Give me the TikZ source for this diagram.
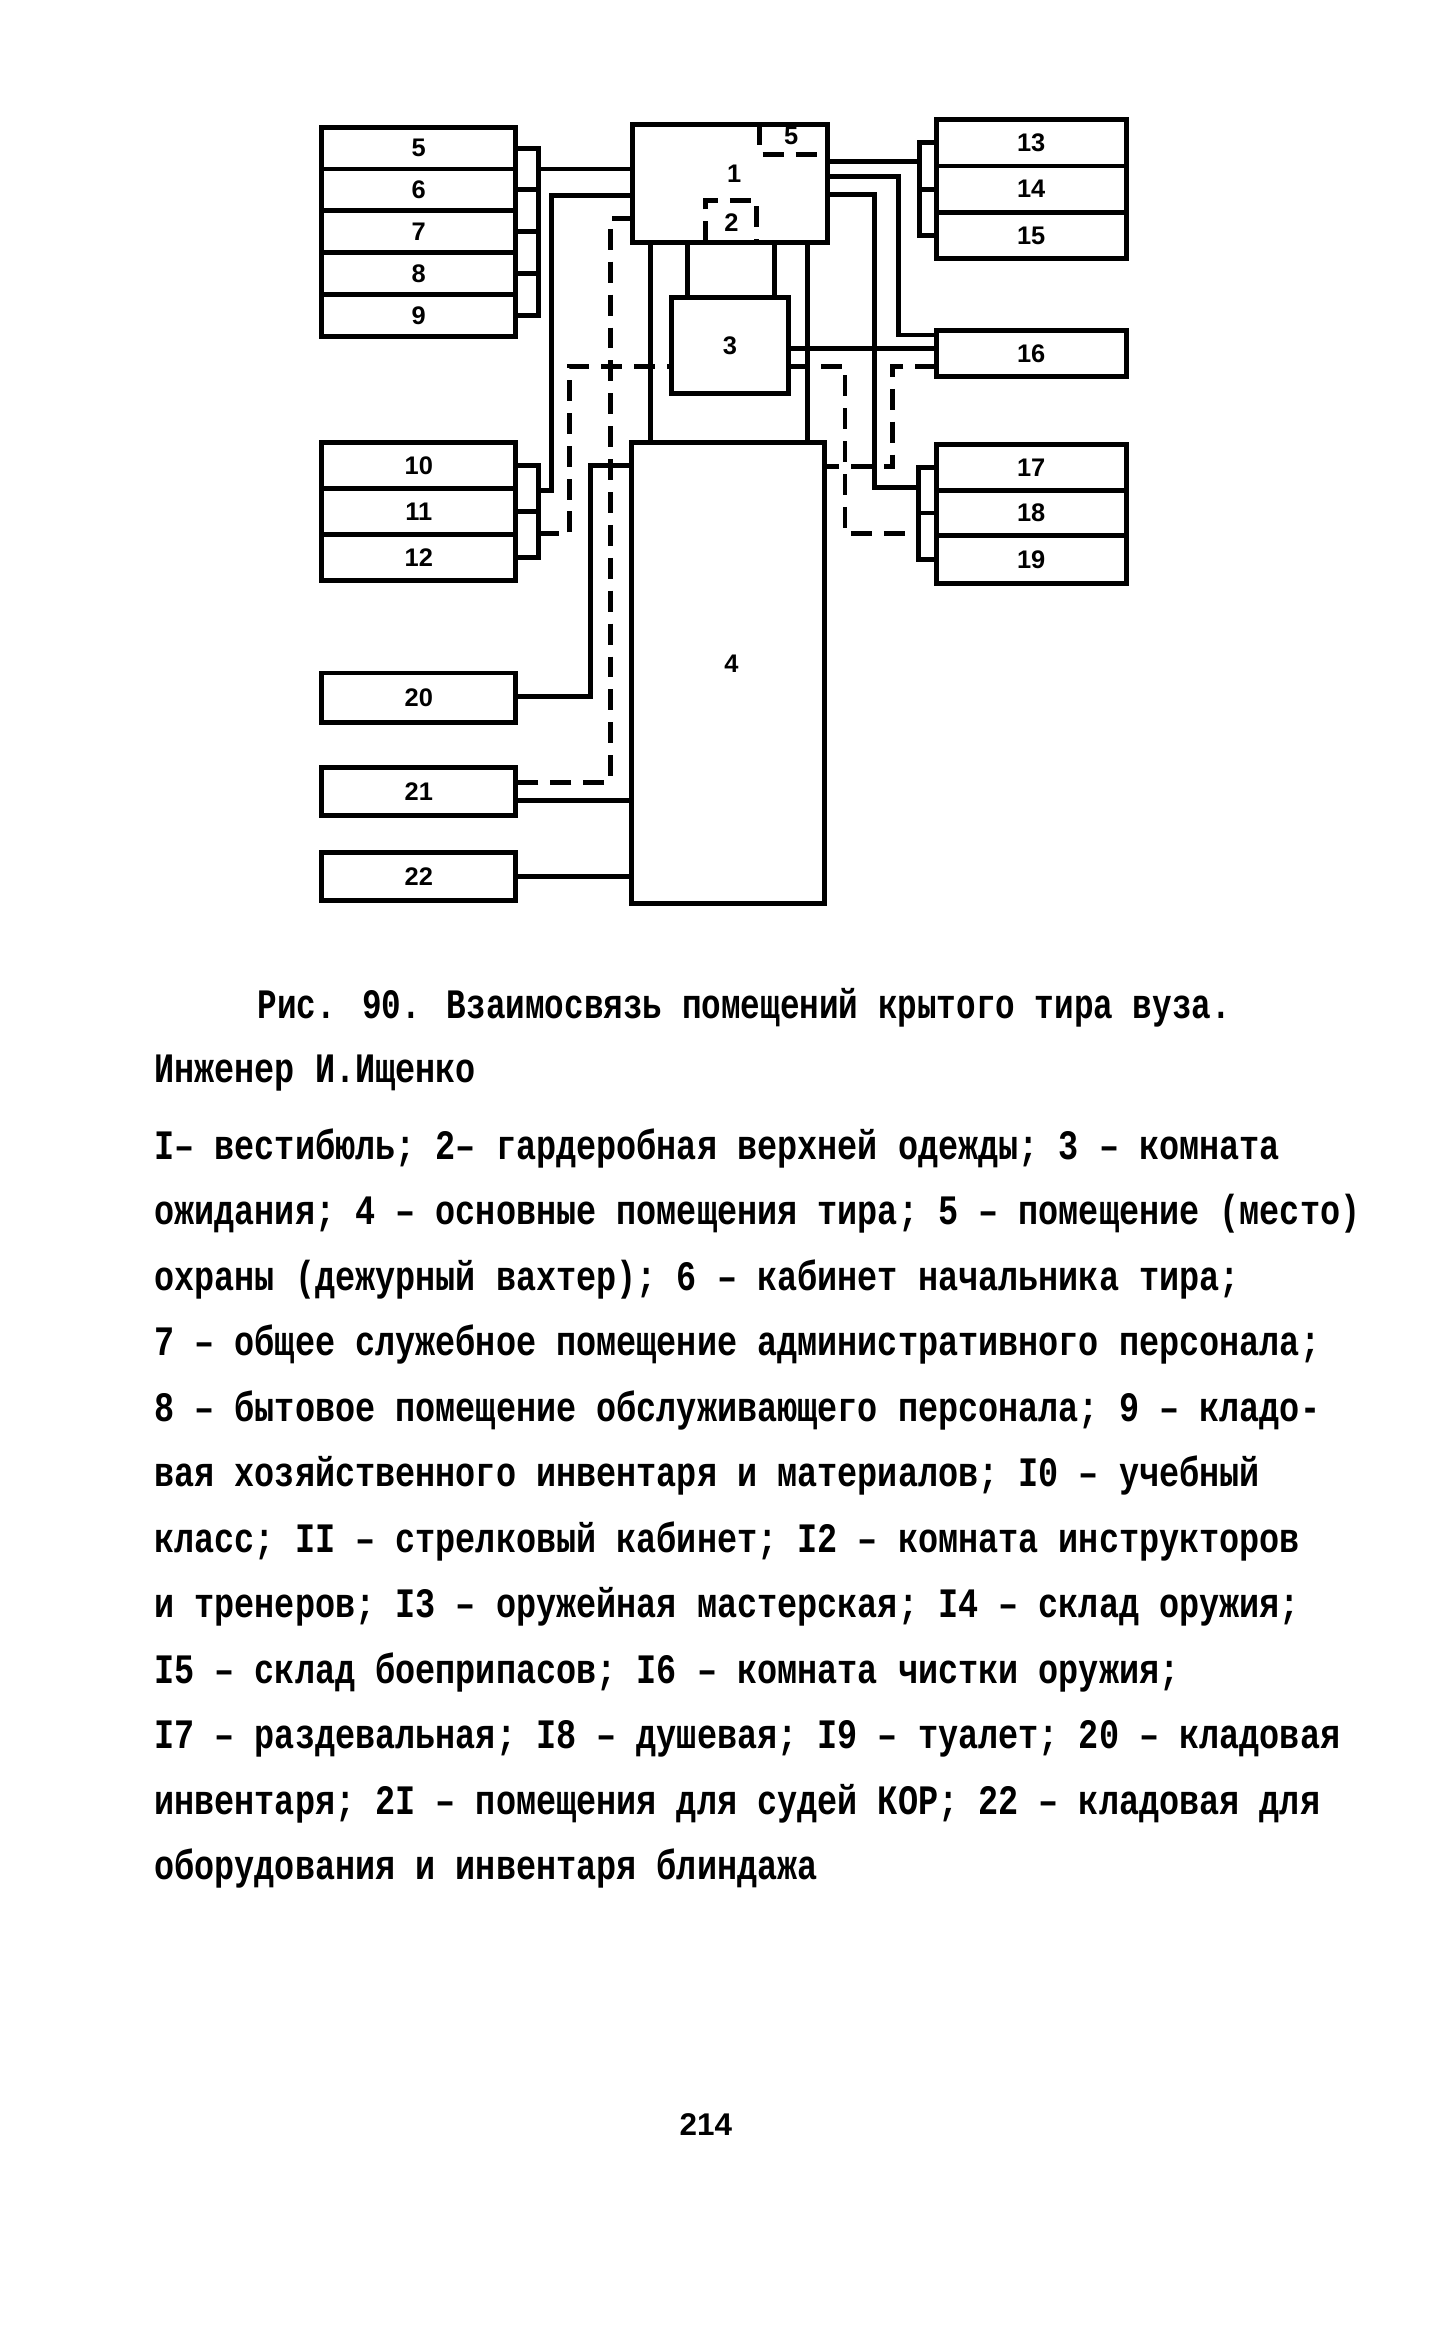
\documentclass[tikz,border=0pt]{standalone}
\usepackage{fontspec}
\newfontfamily\tw{Liberation Mono}[FakeStretch=0.80]
\newfontfamily\twc{Liberation Mono}[FakeStretch=0.78]
\newfontfamily\lab{Liberation Sans}
\begin{document}
\begin{tikzpicture}[x=1pt,y=-1pt,
  room/.style={draw, line width=3.3pt, inner sep=0pt, outer sep=0pt, anchor=north west,
    minimum width=130pt, font=\lab\bfseries\fontsize{17}{17}\selectfont},
  rroom/.style={room, minimum width=127pt},
  lbl/.style={inner sep=0pt, font=\lab\bfseries\fontsize{17}{17}\selectfont},
  wire/.style={line width=3.3pt},
  dwire/.style={line width=3.3pt, dash pattern=on 14pt off 8pt},
  txt/.style={anchor=base west, inner sep=0pt, font=\tw\bfseries\fontsize{28}{28}\selectfont},
  ctxt/.style={anchor=base west, inner sep=0pt, font=\twc\bfseries\fontsize{28}{28}\selectfont}]
\useasboundingbox (0,0) rectangle (972,1568);
\fill[white] (0,0) rectangle (972,1568);

% left stacks
\node[room, minimum height=28pt] (r5) at (215,85) {5};
\node[room, minimum height=28pt] (r6) at (215,113) {6};
\node[room, minimum height=28pt] (r7) at (215,141) {7};
\node[room, minimum height=28pt] (r8) at (215,169) {8};
\node[room, minimum height=28pt] (r9) at (215,197) {9};
\node[room, minimum height=30.67pt] (r10) at (215,296) {10};
\node[room, minimum height=30.67pt] (r11) at (215,326.67) {11};
\node[room, minimum height=30.67pt] (r12) at (215,357.33) {12};
\node[room, minimum height=33pt] (r20) at (215,450) {20};
\node[room, minimum height=32pt] (r21) at (215,513) {21};
\node[room, minimum height=32pt] (r22) at (215,570) {22};

% central blocks
\node[room, minimum width=130pt, minimum height=79pt] (b1) at (423,83) {};
\node[lbl] (l1) at (491,116) {1};
\node[room, minimum width=78pt, minimum height=64pt] (b3) at (449,199) {3};
\node[room, minimum width=129pt, minimum height=308pt] (b4) at (422,296) {};
\node[lbl] (l4) at (489,444) {4};
\node[lbl] (l5) at (529,91) {5};
\node[lbl] (l2) at (489,149) {2};

% right stacks
\node[rroom, minimum height=31pt] (r13) at (626,80) {13};
\node[rroom, minimum height=31pt] (r14) at (626,111) {14};
\node[rroom, minimum height=31pt] (r15) at (626,142) {15};
\node[rroom, minimum height=31pt] (r16) at (626,221) {16};
\node[rroom, minimum height=31pt] (r17) at (626,297) {17};
\node[rroom, minimum height=30pt] (r18) at (626,328) {18};
\node[rroom, minimum height=32pt] (r19) at (626,358) {19};

% left connectors
\draw[wire] (r5.east) -- ++(15,0) |- (r9.east);
\foreach \n in {r6,r7,r8} \draw[wire] (\n.east) -- ++(15,0);
\coordinate (j59) at (360,113);
\draw[wire] (j59) -- (j59 -| b1.west);
\draw[wire] (r10.east) -- ++(15,0) |- (r12.east);
\draw[wire] (r11.east) -- ++(15,0);
\coordinate (j1012) at (360,328);
\coordinate (j1012d) at (360,357);
\draw[wire] (b1.west |- 0,131) -| (369,328) -- (j1012);
\draw[dwire] (j1012d) -| (381,245) -- (b3.west |- 0,245);
\draw[dwire] (b1.west |- 0,146) -| (408,523) -- (r21.east |- 0,523);
\draw[wire] (b4.west |- 0,311) -| (395,466) -- (r20.east |- 0,466);
\draw[wire] (r21.east |- 0,535) -- (b4.west |- 0,535);
\draw[wire] (r22.east) -- (r22.east -| b4.west);

% central connectors
\draw[wire] (b1.south -| 435,0) -- (b4.north -| 435,0);
\draw[wire] (b1.south -| 540,0) -- (b4.north -| 540,0);
\draw[wire] (b1.south -| 460,0) -- (b3.north -| 460,0);
\draw[wire] (b1.south -| 518,0) -- (b3.north -| 518,0);
\draw[dwire] (b1.north -| 508,0) |- (b1.east |- 0,103);
\draw[dwire] (b1.south -| 472,0) |- (506,134) -- (b1.south -| 506,0);

% right connectors
\draw[wire] (r13.west) -- ++(-11,0) |- (r15.west);
\draw[wire] (r14.west) -- ++(-11,0);
\coordinate (j1315) at (615,108);
\draw[wire] (b1.east |- j1315) -- (j1315);
\draw[wire] (b1.east |- 0,118) -| (601,224) -- (r16.west |- 0,224);
\draw[wire] (b3.east |- 0,233) -- (r16.west |- 0,233);
\draw[wire] (r17.west) -- ++(-12,0) |- (r19.west);
\draw[wire] (r18.west) -- ++(-12,0);
\coordinate (j1719) at (614,326);
\coordinate (j1719d) at (614,357);
\draw[wire] (b1.east |- 0,130) -| (585,326) -- (j1719);
\draw[dwire] (b3.east |- 0,245) -| (565,357) -- (j1719d);
\draw[dwire] (r16.west |- 0,245) -| (597,312) -- (b4.east |- 0,312);

% caption and legend
\node[ctxt] (cap1) at (172,681) {Рис. 90. Взаимосвязь помещений крытого тира вуза.};
\node[txt] (cap2) at (103,724) {Инженер И.Ищенко};
\node[txt] (t1) at (103,775) {I– вестибюль; 2– гардеробная верхней одежды; 3 – комната};
\node[txt] (t2) at (103,818.8) {ожидания; 4 – основные помещения тира; 5 – помещение (место)};
\node[txt] (t3) at (103,862.6) {охраны (дежурный вахтер); 6 – кабинет начальника тира;};
\node[txt] (t4) at (103,906.4) {7 – общее служебное помещение административного персонала;};
\node[txt] (t5) at (103,950.2) {8 – бытовое помещение обслуживающего персонала; 9 – кладо-};
\node[txt] (t6) at (103,994) {вая хозяйственного инвентаря и материалов; I0 – учебный};
\node[txt] (t7) at (103,1037.8) {класс; II – стрелковый кабинет; I2 – комната инструкторов};
\node[txt] (t8) at (103,1081.6) {и тренеров; I3 – оружейная мастерская; I4 – склад оружия;};
\node[txt] (t9) at (103,1125.4) {I5 – склад боеприпасов; I6 – комната чистки оружия;};
\node[txt] (t10) at (103,1169.2) {I7 – раздевальная; I8 – душевая; I9 – туалет; 20 – кладовая};
\node[txt] (t11) at (103,1213) {инвентаря; 2I – помещения для судей КОР; 22 – кладовая для};
\node[txt] (t12) at (103,1256.8) {оборудования и инвентаря блиндажа};
\node[inner sep=0pt, anchor=base, font=\lab\bfseries\fontsize{21}{21}\selectfont] (pg) at (472,1428) {214};
\end{tikzpicture}
\end{document}
